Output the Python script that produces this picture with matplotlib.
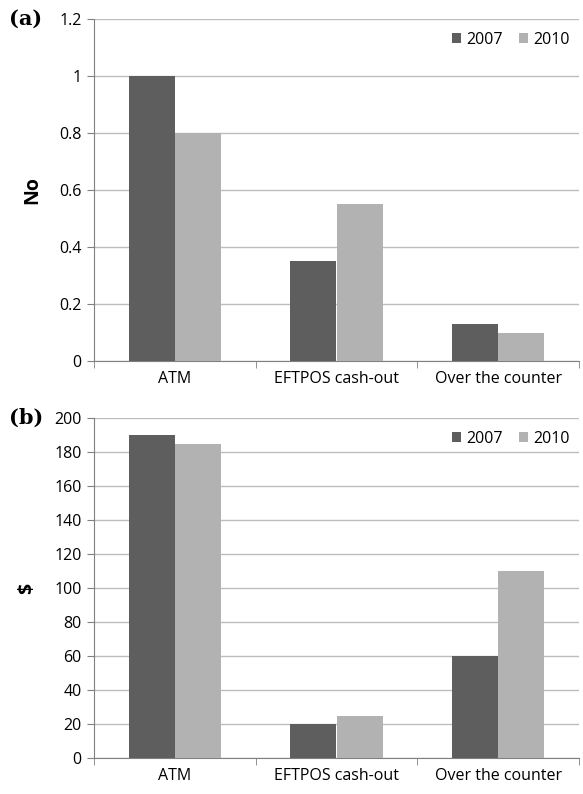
import matplotlib
matplotlib.use("Agg")
import matplotlib.pyplot as plt
import numpy as np

categories = ["ATM", "EFTPOS cash-out", "Over the counter"]
series = ["2007", "2010"]
no_2007 = [1.0, 0.35, 0.13]
no_2010 = [0.8, 0.55, 0.10]
usd_2007 = [190, 20, 60]
usd_2010 = [185, 25, 110]

dark = "#5e5e5e"
light = "#b2b2b2"
plt.rcParams['font.family'] = ['Open Sans', 'DejaVu Sans']

fig = plt.figure(figsize=(5.83, 7.94), dpi=100)
W, H = 583, 794

def make_ax(top, bottom):
    left, right = 94, 579
    return fig.add_axes([left / W, 1 - bottom / H, (right - left) / W, (bottom - top) / H])

ax1 = make_ax(19, 361)
ax2 = make_ax(418, 758)

FS = 11.5

def draw(ax, v1, v2, ymax, step, ylabel, tag, fmt):
    x = np.arange(len(categories))
    w = 0.285
    ax.bar(x - w / 2, v1, w, color=dark, label=series[0], zorder=3)
    ax.bar(x + w / 2, v2, w, color=light, label=series[1], zorder=3)
    ax.set_xlim(-0.5, len(categories) - 0.5)
    ax.set_ylim(0, ymax)
    yt = np.arange(0, ymax + step / 2, step)
    ax.set_yticks(yt)
    ax.set_yticklabels([fmt(v) for v in yt], fontsize=FS)
    ax.yaxis.grid(True, color="#bdbdbd", linewidth=1, zorder=0)
    ax.set_axisbelow(True)
    for s in ["top", "right"]:
        ax.spines[s].set_visible(False)
    ax.spines["left"].set_color("#808080")
    ax.spines["bottom"].set_color("#808080")
    ax.set_xticks(x)
    ax.set_xticklabels(categories, fontsize=FS)
    ax.tick_params(axis="x", length=0, pad=7)
    ax.set_xticks(np.arange(-0.5, len(categories)), minor=True)
    ax.tick_params(axis="x", which="minor", length=5, color="#808080")
    ax.tick_params(axis="y", length=5, color="#808080", pad=4)
    ax.set_ylabel(ylabel, fontsize=14, fontweight="bold", labelpad=12)
    ax.text(-0.175, 1.0, tag, transform=ax.transAxes, fontsize=15, fontweight="bold",
            family="DejaVu Serif", va="center", ha="left")
    ax.legend(loc="upper right", bbox_to_anchor=(1.0, 0.99), frameon=False, fontsize=FS,
              handlelength=0.6, handleheight=0.6, handletextpad=0.3, columnspacing=1.0, ncol=2,
              borderaxespad=0.2)

draw(ax1, no_2007, no_2010, 1.2, 0.2, "No", "(a)", lambda v: "0" if v == 0 else ("1" if abs(v - 1) < 1e-9 else f"{v:.1f}"))
draw(ax2, usd_2007, usd_2010, 200, 20, "$", "(b)", lambda v: f"{int(v)}")

fig.savefig("out.png", dpi=100)
